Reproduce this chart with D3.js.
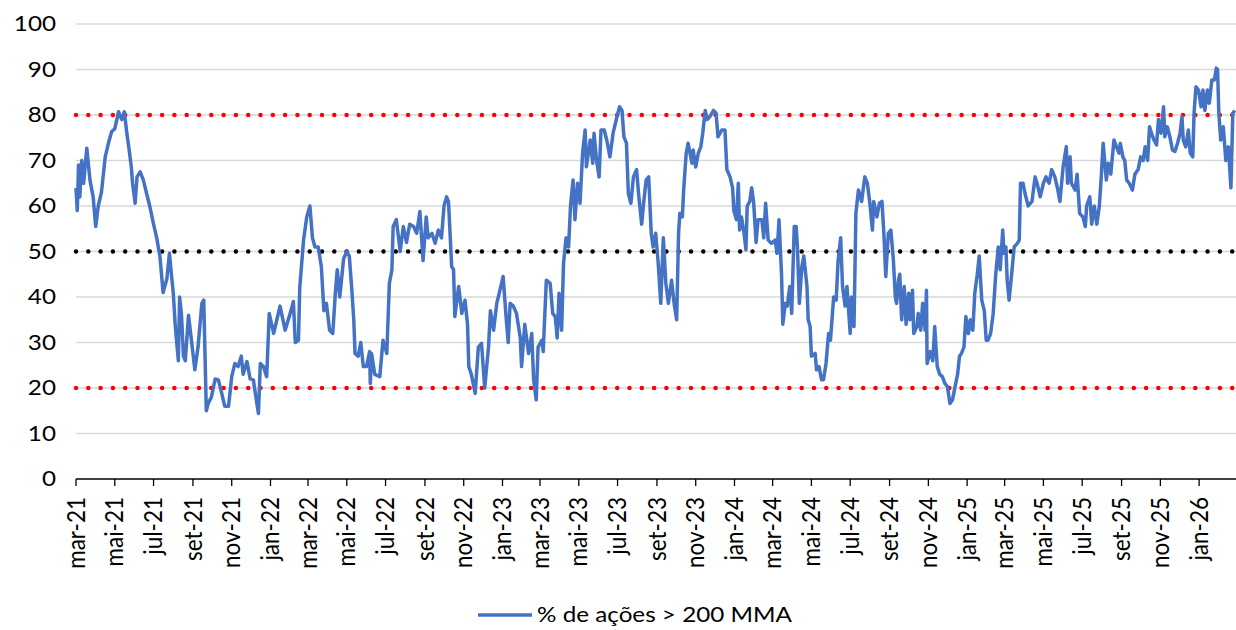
<!DOCTYPE html>
<html><head><meta charset="utf-8">
<script src="https://cdn.jsdelivr.net/npm/d3@7"></script>
<style>html,body{margin:0;padding:0;background:#fff;}svg{display:block;}</style>
</head><body>
<svg id="c" width="1236" height="630"></svg>
<script>
// ---- data ----
const startDate = "2021-03-01";   // first observation / left end of x axis
const endDate = "2026-02-28";     // right end of x axis
// observation dates as days after startDate
const days = [
0,2,4,6,9,12,17,22,27,31,35,40,46,51,56,61,67,72,76,80,83,87,89,93,96,101,106,111,116,122,127,132,137,143,147,151,153,156,161,163,
166,169,172,177,182,187,192,198,201,205,208,213,219,224,229,234,240,245,250,255,260,263,269,274,279,283,287,290,295,300,304,311,316,321,329,337,342,345,350,352,358,363,368,
372,376,381,386,390,394,399,404,408,411,415,421,426,430,434,437,439,444,448,452,457,462,463,465,470,478,483,489,493,497,499,504,510,515,520,525,531,536,541,546,
551,554,560,565,570,575,579,583,586,588,591,594,596,602,607,612,616,618,622,628,633,638,643,649,652,657,662,667,672,677,680,683,688,693,699,701,706,712,717,720,724,727,733,
735,740,746,750,754,757,760,764,767,771,775,778,782,785,789,793,797,801,803,809,813,815,819,823,826,831,835,840,845,850,855,859,862,866,869,873,877,882,885,890,893,897,901,905,908,912,916,920,
924,928,932,937,941,945,948,950,954,956,960,963,969,971,975,979,983,986,990,993,997,1003,1007,1010,1016,1021,1024,1029,1033,1035,1039,1042,1044,1047,1051,1054,1056,1060,1063,1066,1070,1073,1079,1082,1085,1089,1094,1100,1103,1106,
1110,1112,1116,1119,1123,1126,1128,1130,1133,1135,1138,1142,1145,1150,1152,1155,1157,1163,1165,1169,1173,1176,1180,1184,1187,1192,1196,1199,1203,1206,1210,1213,1218,1220,1224,1227,1231,1236,1241,1245,1249,1253,1255,1260,1264,1268,1271,1274,1278,1282,1286,1289,1291,1294,1296,
1299,1303,1306,1310,1312,1316,1318,1323,1325,1329,1332,1336,1338,1339,1344,1348,1351,1355,1359,1363,1367,1371,1375,1379,1383,1387,1390,1393,1397,1400,1404,1407,1411,1414,1418,1421,1425,1429,1432,1435,1439,1443,1447,1451,1454,1458,1460,1463,1465,1468,1472,1476,1481,1484,1486,1490,1493,
1498,1504,1509,1512,1517,1522,1526,1531,1535,1540,1544,1548,1553,1558,1560,1564,1566,1572,1575,1579,1584,1588,1590,1595,1598,1602,1606,1610,1613,1616,1621,1624,1628,1633,1637,1641,
1643,1647,1650,1653,1657,1662,1666,1671,1675,1679,1682,1686,1689,1692,1696,1700,1703,1707,1711,1713,1717,1721,1725,1729,1733,1737,1740,1742,1746,1750,1753,1757,1759,1762,1766,1770,1773,1776,1780,1783,1787,1791,1794,1796,1798,1801,1805,1809,1813,1817,1820,1823
];
// % of stocks above their 200-day moving average
const values = [
64,59,69,62,70,65,72.7,65.7,62,55.5,60,63,70.8,73.8,76.3,77,80.7,79,80.7,76,73,68.6,65,60.6,66.4,67.5,65.7,62.8,60,56,53,49,41,44,49.6,43.7,41,34,26,40,
36,27,26,36,30,24,29,38.6,39.3,15,16.6,18,22,21.8,19,16,16,22.5,25.4,24.7,27,23,25.8,22,21.8,18,14.4,25.4,24.7,22.5,36.4,32,35,38,32.7,36.4,39,30,30.5,42,52.5,57.6,60,
53,51,51,46.7,37,38.6,32.7,32,40.8,46,40,48.4,50,49,41.5,35,27.6,27,30,24.7,24.7,28,21,27.6,23,22.5,30.5,27.6,43,46,55.5,57,50,55.5,52,56,55.5,54,58.8,48,
57.6,53,54,51.8,54.7,53,60,62,61,55.5,46.7,46,35.7,42.3,36.4,39.3,34,24.7,23,18.8,29,29.8,20,29,37,32.7,38.6,41.5,44.5,35,30,38.6,38,36.4,31,24.7,34,27.6,32,21.8,17.4,29,30.5,
28,43.7,43,36.4,35.7,31,40.8,32.7,47.4,53,51,60,65.7,57,65,60.6,71.6,76.7,68.6,74.5,69.4,76,70,66.4,76.7,76.7,74.5,70.8,76,79,81.8,81,75.2,73.8,62.8,60.6,66.4,68,62.8,56,60.6,65.7,66.4,54,51,54,47.4,38.6,
53,43,38.6,43.7,38.6,35,54,58.4,57.6,63.5,71.6,73.8,69.4,72.3,68.6,71.6,73,76,81,79,79.6,81,80.4,75.2,76.7,76.7,68,66.4,64,59,57,65,54.7,57.6,54,50.4,60,61,64,61,52,57,57,53,60.6,52.5,51.8,52.5,49.6,57,
45,34,38.6,38,42.3,36.4,46,55.5,55.5,51,38.6,46.7,49,42.3,35,33.5,27,27.6,24,24.7,21.8,21.8,25.4,32,30.5,40,39.3,48,53,42.3,38,42.3,32,40,33.5,58.4,63.5,61,66.4,65,60.6,54.7,61,57.6,60.6,61,54,44.5,54,54.7,48,40,38.6,43.7,45,
35,42.3,34,40.8,35,41.5,32,33.5,36.4,32.7,38.6,32.7,41.5,25.4,28,26,33.5,24.7,23,22.5,21,20.3,16.6,17.4,20.3,23,27,27.6,29,35.7,32,35,32.7,40.8,45,49,39.3,37,30.5,30.5,32,36.4,45,51,46,54.7,49.6,51,43.7,39.3,45,51,51.8,52.5,65,65,62.8,
60,61,66.4,65,62,65,66.4,65,68,66.4,64,61,68.6,73,65,70.8,65,63.5,67,58.4,57.6,55.5,60,62,56,60,56,60,66.4,73.8,65.7,69.4,67,74.5,73,71.6,
73.8,70.8,70,65.7,65,63.5,67,68,70.8,70,73,70,77.4,76,74.5,73.4,79,76,81.8,75.2,77.4,75.2,72.3,72,73.8,76,79.6,74.5,73,76.7,71.6,70.8,80.4,86.2,85.5,81.8,85.5,81,85.5,82.6,87.7,87.7,90.3,90,80.4,74.5,77.4,70,73,64,80.4,81
];
const yTicks = [0,10,20,30,40,50,60,70,80,90,100];
const tickLabels = ["mar-21","mai-21","jul-21","set-21","nov-21","jan-22","mar-22","mai-22","jul-22","set-22","nov-22","jan-23","mar-23","mai-23","jul-23","set-23","nov-23","jan-24","mar-24","mai-24","jul-24","set-24","nov-24","jan-25","mar-25","mai-25","jul-25","set-25","nov-25","jan-26"];
const refRed = [80, 20];
const refBlack = [50];
const seriesName = "% de ações > 200 MMA";

// ---- build ----
const ptMonths = {jan:0,fev:1,mar:2,abr:3,mai:4,jun:5,jul:6,ago:7,set:8,out:9,nov:10,dez:11};
const parse = d3.timeParse("%Y-%m-%d");
const t0 = parse(startDate);
const series = values.map((v,i)=>({date:d3.timeDay.offset(t0, days[i]), value:v}));
const tickDates = tickLabels.map(l=>{const [m,y]=l.split("-");return new Date(2000+ +y, ptMonths[m], 1);});

const L=76, R=1236, T=24, B=479;
const x = d3.scaleTime().domain([t0, parse(endDate)]).range([L,R]);
const y = d3.scaleLinear().domain([0,100]).range([B,T]);
const svg = d3.select("#c");
const FONT = "Lato, 'Liberation Sans', sans-serif";
const SX = 1.155, FS = 21;

// gridlines
svg.append("g").selectAll("line").data(yTicks.filter(d=>d>0)).join("line")
  .attr("x1",L).attr("x2",R).attr("y1",d=>y(d)).attr("y2",d=>y(d))
  .attr("stroke","#d9d9d9").attr("stroke-width",1.5);

// y labels
svg.append("g").selectAll("text").data(yTicks).join("text")
  .attr("transform",d=>`translate(56,${y(d)}) scale(${SX},1)`)
  .attr("text-anchor","end").attr("dy","0.35em")
  .attr("font-family",FONT).attr("font-size",FS).attr("fill","#000")
  .text(d=>d);

// reference dotted lines
function refLine(v,color){
  svg.append("line").attr("x1",L).attr("x2",R).attr("y1",y(v)).attr("y2",y(v))
    .attr("stroke",color).attr("stroke-width",4.5).attr("stroke-linecap","round")
    .attr("stroke-dasharray","0 12.3");
}
refRed.forEach(v=>refLine(v,"#ff0000"));
refBlack.forEach(v=>refLine(v,"#000000"));

// x axis
const ax = svg.append("g");
ax.append("line").attr("x1",L).attr("x2",R).attr("y1",B).attr("y2",B).attr("stroke","#000").attr("stroke-width",1.3);
ax.selectAll("line.t").data(tickDates).join("line").attr("class","t")
  .attr("x1",d=>x(d)).attr("x2",d=>x(d)).attr("y1",B).attr("y2",B+7)
  .attr("stroke","#000").attr("stroke-width",1.3);
ax.selectAll("text").data(tickDates).join("text")
  .attr("transform",d=>`translate(${x(d)},497) scale(1.1,1) rotate(-90)`)
  .attr("text-anchor","end").attr("dy","0.35em")
  .attr("font-family",FONT).attr("font-size",22.5).attr("fill","#000")
  .text((d,i)=>tickLabels[i]);

// series line
svg.append("path").datum(series)
  .attr("d", d3.line().x(d=>x(d.date)).y(d=>y(d.value)))
  .attr("fill","none").attr("stroke","#4472C4").attr("stroke-width",3.5)
  .attr("stroke-linejoin","round");

// legend
const lg = svg.append("g");
lg.append("line").attr("x1",478).attr("x2",532).attr("y1",615).attr("y2",615)
  .attr("stroke","#4472C4").attr("stroke-width",3.5);
lg.append("text").attr("transform",`translate(537,615) scale(${SX},1)`)
  .attr("dy","0.35em").attr("font-family",FONT).attr("font-size",FS).attr("fill","#000")
  .text(seriesName);
</script>
</body></html>
